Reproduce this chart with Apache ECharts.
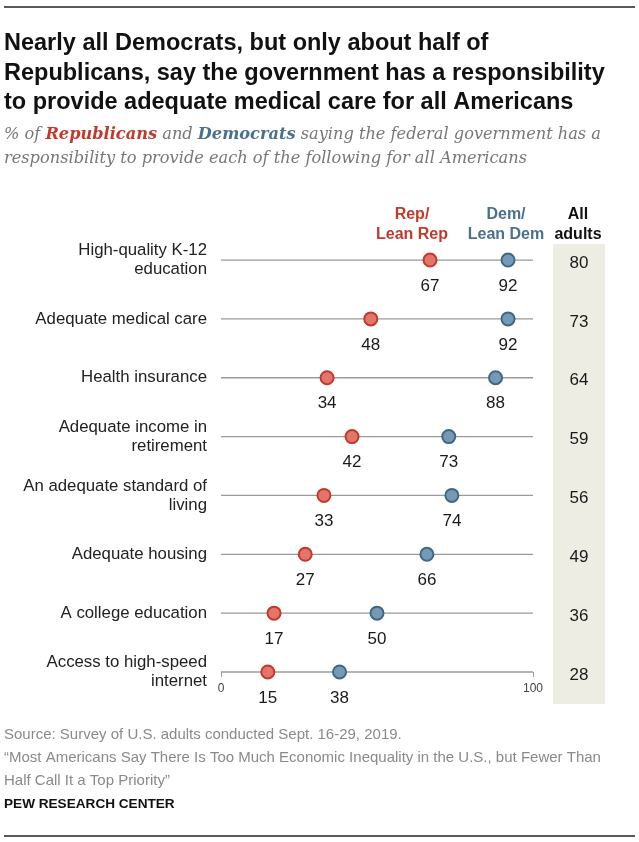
<!DOCTYPE html>
<html><head><meta charset="utf-8">
<script src="https://cdn.jsdelivr.net/npm/echarts@6/dist/echarts.min.js"></script>
<style>html,body{margin:0;padding:0;background:#fff}#c{width:639px;height:842px}</style>
</head><body><div id="c"></div>
<script>
const categories = [
  'High-quality K-12\neducation',
  'Adequate medical care',
  'Health insurance',
  'Adequate income in\nretirement',
  'An adequate standard of\nliving',
  'Adequate housing',
  'A college education',
  'Access to high-speed\ninternet'
];
const repValues = [67, 48, 34, 42, 33, 27, 17, 15];
const demValues = [92, 92, 88, 73, 74, 66, 50, 38];
const allAdults = [80, 73, 64, 59, 56, 49, 36, 28];
const xTicks = [0, 100];

const RED_FILL = '#e2766a', RED_LINE = '#c3392b';
const BLUE_FILL = '#7699b6', BLUE_LINE = '#3f6886';

const gridTop = 230.6, gridBottom = 140.6;
const chart = echarts.init(document.getElementById('c'), null, {renderer: 'canvas'});

const sans = 'Liberation Sans';
const serif = '"DejaVu Serif"';

chart.setOption({
  animation: false,
  backgroundColor: '#fff',
  title: [
    {text: 'Nearly all Democrats, but only about half of\nRepublicans, say the government has a responsibility\nto provide adequate medical care for all Americans',
     left: 4, top: 29, padding: 0,
     textStyle: {fontFamily: sans, fontWeight: 'bold', fontSize: 23.5, lineHeight: 29.5, color: '#111'}},
    {text: '{n|% of }{r|Republicans}{n| and }{d|Democrats}{n| saying the federal government has a}\n{n|responsibility to provide each of the following for all Americans}',
     left: 4, top: 123, padding: 0,
     textStyle: {fontWeight: 'normal', rich: {
       n: {fontFamily: serif, fontStyle: 'italic', fontWeight: 'normal', fontSize: 16.2, color: '#777', lineHeight: 24},
       r: {fontFamily: serif, fontStyle: 'italic', fontWeight: 'bold', fontSize: 16.2, color: '#c3392b', lineHeight: 24},
       d: {fontFamily: serif, fontStyle: 'italic', fontWeight: 'bold', fontSize: 16.2, color: '#4a7090', lineHeight: 24}
     }}},
    {text: 'Rep/\nLean Rep', left: 412, top: 205, textAlign: 'center', padding: 0,
     textStyle: {fontFamily: sans, fontWeight: 'bold', fontSize: 16, lineHeight: 20, color: '#c3392b'}},
    {text: 'Dem/\nLean Dem', left: 506, top: 205, textAlign: 'center', padding: 0,
     textStyle: {fontFamily: sans, fontWeight: 'bold', fontSize: 16, lineHeight: 20, color: '#4a7090'}},
    {text: 'All\nadults', left: 578, top: 205, textAlign: 'center', padding: 0,
     textStyle: {fontFamily: sans, fontWeight: 'bold', fontSize: 16, lineHeight: 20, color: '#111'}},
    {text: 'Source: Survey of U.S. adults conducted Sept. 16-29, 2019.\n\u201cMost Americans Say There Is Too Much Economic Inequality in the U.S., but Fewer Than\nHalf Call It a Top Priority\u201d',
     left: 4, top: 723, padding: 0,
     textStyle: {fontFamily: sans, fontWeight: 'normal', fontSize: 15, lineHeight: 23, color: '#8a8a8a'}},
    {text: 'PEW RESEARCH CENTER', left: 4, top: 797, padding: 0,
     textStyle: {fontFamily: sans, fontWeight: 'bold', fontSize: 13.6, color: '#111'}}
  ],
  graphic: [
    {type: 'line', shape: {x1: 4, y1: 7, x2: 635, y2: 7}, style: {stroke: '#222', lineWidth: 1.5}},
    {type: 'line', shape: {x1: 4, y1: 836, x2: 635, y2: 836}, style: {stroke: '#222', lineWidth: 1.5}},
    {type: 'rect', shape: {x: 553, y: 244, width: 52, height: 460}, style: {fill: '#eeede4'}, z: -10}
  ],
  grid: [
    {left: 221, right: 106, top: gridTop, bottom: gridBottom},
    {left: 553, width: 52, top: gridTop, bottom: gridBottom}
  ],
  xAxis: [
    {type: 'value', min: xTicks[0], max: xTicks[1], interval: 100, gridIndex: 0,
     offset: -29.4, splitLine: {show: false}, axisLine: {show: false},
     axisTick: {show: true, length: 5, lineStyle: {color: '#999'}},
     axisLabel: {margin: 11, fontSize: 12, color: '#444', fontFamily: sans,
       formatter: v => xTicks.includes(v) ? String(v) : ''}},
    {type: 'value', min: 0, max: 1, gridIndex: 1, show: false}
  ],
  yAxis: [
    {type: 'category', data: categories, inverse: true, gridIndex: 0,
     axisLine: {show: false}, axisTick: {show: false}, splitLine: {show: false},
     axisLabel: {margin: 14, fontSize: 16.8, lineHeight: 19, color: '#222', fontFamily: sans, align: 'right'}},
    {type: 'category', data: categories, inverse: true, gridIndex: 1, show: false}
  ],
  series: [
    {type: 'custom', xAxisIndex: 0, yAxisIndex: 0, z: 1,
     data: categories.map((c, i) => [i]),
     renderItem: (params, api) => {
       const i = api.value(0);
       const a = api.coord([0, i]), b = api.coord([100, i]);
       return {type: 'line', shape: {x1: a[0], y1: a[1], x2: b[0], y2: b[1]},
               style: {stroke: '#9a9a9a', lineWidth: 1.3}};
     }},
    {type: 'scatter', name: 'Rep/Lean Rep', xAxisIndex: 0, yAxisIndex: 0, z: 5,
     data: repValues.map((v, i) => [v, i]), symbolSize: 13,
     itemStyle: {color: RED_FILL, borderColor: RED_LINE, borderWidth: 2, opacity: 1},
     label: {show: true, position: 'bottom', distance: 10, fontSize: 17, color: '#1a1a1a', fontFamily: sans,
       formatter: p => p.value[0]}},
    {type: 'scatter', name: 'Dem/Lean Dem', xAxisIndex: 0, yAxisIndex: 0, z: 5,
     data: demValues.map((v, i) => [v, i]), symbolSize: 13,
     itemStyle: {color: BLUE_FILL, borderColor: BLUE_LINE, borderWidth: 2, opacity: 1},
     label: {show: true, position: 'bottom', distance: 10, fontSize: 17, color: '#1a1a1a', fontFamily: sans,
       formatter: p => p.value[0]}},
    {type: 'custom', name: 'All adults', xAxisIndex: 1, yAxisIndex: 1, z: 5,
     data: allAdults.map((v, i) => [0.5, i, v]),
     renderItem: (params, api) => {
       const p = api.coord([api.value(0), api.value(1)]);
       return {type: 'text', x: p[0], y: p[1] + 3,
         style: {text: String(api.value(2)), fill: '#1a1a1a', fontSize: 17, fontFamily: sans,
                 align: 'center', verticalAlign: 'middle'}};
     }}
  ]
});
</script></body></html>
